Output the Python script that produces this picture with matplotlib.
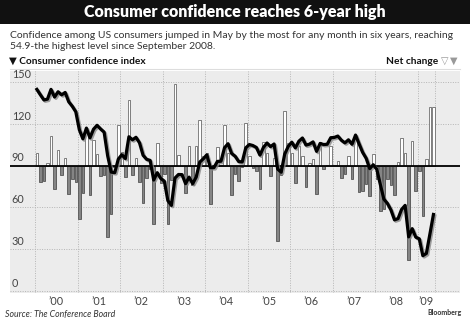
import numpy as np
import matplotlib.pyplot as plt
import matplotlib.patheffects as pe
from matplotlib.patches import Rectangle

# Conference Board consumer confidence index, monthly Jan 2000 - May 2009
dec_1999 = 141.7
index_vals = [
    144.7, 140.8, 137.1, 137.7, 144.7, 139.2, 143.0, 140.8, 142.5, 135.8, 132.6, 128.6,  # 2000
    115.7, 109.2, 116.9, 109.9, 116.1, 118.9, 116.3, 114.0, 97.0, 85.3, 84.9, 94.6,     # 2001
    97.8, 95.0, 110.7, 108.5, 110.3, 106.3, 97.4, 94.5, 93.7, 79.6, 84.9, 80.7,         # 2002
    78.8, 64.8, 61.4, 81.0, 83.6, 83.5, 77.0, 81.7, 77.0, 81.7, 92.5, 94.8,             # 2003
    97.7, 88.5, 88.5, 93.0, 93.1, 102.8, 105.7, 98.7, 96.7, 92.9, 92.6, 102.7,          # 2004
    105.1, 104.4, 103.0, 97.5, 103.1, 106.2, 103.6, 105.5, 87.5, 85.2, 98.3, 103.8,     # 2005
    106.8, 102.7, 107.5, 109.8, 104.7, 105.4, 107.0, 100.2, 105.9, 105.1, 105.3, 110.0, # 2006
    110.2, 111.2, 108.2, 106.3, 108.5, 105.3, 111.9, 105.6, 99.5, 95.2, 87.8, 90.6,     # 2007
    87.3, 76.4, 65.9, 62.8, 58.1, 51.0, 51.9, 58.5, 61.4, 38.8, 44.7, 38.6,             # 2008
    37.4, 25.3, 26.9, 40.8, 54.9,                                                       # 2009
]
year_labels = ["\u201900", "\u201901", "\u201902", "\u201903", "\u201904",
               "\u201905", "\u201906", "\u201907", "\u201908", "\u201909"]
y_ticks = [0, 30, 60, 90, 120, 150]

idx = np.array(index_vals)
net_change = np.diff(np.concatenate([[dec_1999], idx]))
t = 2000 + (np.arange(len(idx)) + 0.5) / 12

baseline = 90
scale = 3.0  # net change drawn 3x around the 90 line

W, H = 470, 321
fig = plt.figure(figsize=(W / 100, H / 100), dpi=100)
fig.patch.set_facecolor("white")
font = ["Lato", "DejaVu Sans"]

# header bar
fig.patches.append(Rectangle((0, 1 - 24 / H), 1, 24 / H, transform=fig.transFigure,
                             facecolor="#111111", edgecolor="none", zorder=0))
fig.text(0.5, 1 - 12.5 / H, "Consumer confidence reaches 6-year high", color="white",
         fontsize=11.5, fontweight="heavy", ha="center", va="center", family=font)

fig.text(10 / W, 1 - 41 / H,
         "Confidence among US consumers jumped in May by the most for any month in six years, reaching\n"
         "54.9-the highest level since September 2008.",
         fontsize=7.5, color="#333333", ha="left", va="center", linespacing=1.15,
         family=font)
fig.text(9 / W, 1 - 61 / H, "\u25bc Consumer confidence index", fontsize=7.3,
         fontweight="bold", color="#111111", ha="left", va="center", family=font)
fig.text(438 / W, 1 - 61 / H, "Net change", fontsize=7.3, fontweight="bold",
         color="#111111", ha="right", va="center", family=font)
fig.text(441 / W, 1 - 61 / H, "\u25bd", fontsize=7, color="#999999", ha="left", va="center")
fig.text(450 / W, 1 - 61 / H, "\u25bc", fontsize=7, color="#999999", ha="left", va="center")
fig.lines.append(plt.Line2D([10 / W, 460 / W], [1 - 69 / H, 1 - 69 / H],
                            transform=fig.transFigure, color="#dddddd", lw=0.8))

ax = fig.add_axes([10 / W, 1 - 293 / H, 450 / W, 222 / H])
ax.set_facecolor("#ececec")
ax.set_xlim(1999.41, 2010.0)
ax.set_ylim(-1.5, 157.9)
for s in ax.spines.values():
    s.set_visible(False)
ax.set_xticks([])
ax.set_yticks([])

# gridlines
for yv in y_ticks:
    if yv != baseline:
        ax.axhline(yv, color="#b5b5b5", lw=0.7, ls=(0, (1, 1.5)), zorder=1)
for xv in list(range(2000, 2010)) + [2009 + 5 / 12]:
    ax.axvline(xv, color="#b5b5b5", lw=0.7, ls=(0, (1, 1.5)), zorder=1)

# net change bars with shadow
bw = 0.72 / 12
heights = net_change * scale
up = heights >= 0
ax.bar(t + 0.28 / 12, heights, width=bw, bottom=baseline, color="#a8a8a8",
       edgecolor="none", zorder=2)
ax.bar(t[up], heights[up], width=bw, bottom=baseline, color="white",
       edgecolor="#707070", linewidth=0.6, zorder=3)
ax.bar(t[~up], heights[~up], width=bw, bottom=baseline, color="#858585",
       edgecolor="#555555", linewidth=0.6, zorder=3)

ax.axhline(baseline, color="black", lw=1.3, zorder=4)

ax.plot(t, idx, color="black", lw=2.3, zorder=5, solid_joinstyle="round",
        path_effects=[pe.SimpleLineShadow(offset=(1, -1), shadow_color="#888888", alpha=0.8),
                      pe.Normal()])

for yv in y_ticks:
    ax.text(1999.45, yv + 1.5, str(yv), fontsize=7.8, color="#444444",
            ha="left", va="bottom", family=font)

for i, lab in enumerate(year_labels):
    xpos = 2000.5 + i if i < 9 else 2009.2
    ax.text(xpos, -4, lab, fontsize=7.8, color="#444444", ha="center", va="top",
            family=font)

fig.text(5 / W, 1 - 315 / H, "Source: The Conference Board", fontsize=6.3,
         style="italic", color="#333333", ha="left", va="center", family=font)
fig.text(462 / W, 1 - 312 / H, "Bloomberg", fontsize=5, fontweight="bold",
         color="#333333", ha="right", va="center", family=font)

fig.savefig("out.png", dpi=100)
